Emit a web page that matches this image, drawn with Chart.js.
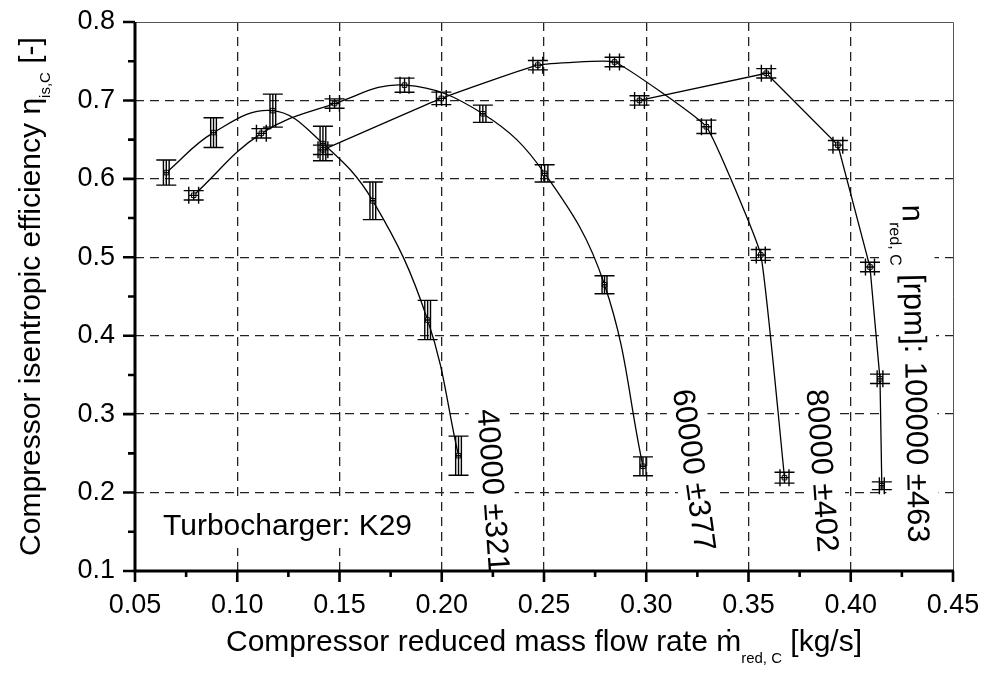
<!DOCTYPE html>
<html>
<head>
<meta charset="utf-8">
<script src="https://cdn.jsdelivr.net/npm/chart.js@4.4.1/dist/chart.umd.min.js"></script>
<style>
  html, body { margin: 0; padding: 0; background: #fff; }
  #wrap { width: 989px; height: 677px; }
</style>
</head>
<body>
<div id="wrap"><canvas id="effChart" width="989" height="677"></canvas></div>
<script>
// compressor map values
const speedLabels = ["40000 \u00b1321", "60000 \u00b1377", "80000 \u00b1402", "100000 \u00b1463"];

const massFlow40 = [0.0653, 0.0884, 0.1174, 0.1419, 0.1663, 0.1931, 0.2082];
const eff40 = [0.608, 0.659, 0.687, 0.645, 0.572, 0.420, 0.247];
const effErr40 = [0.016, 0.019, 0.021, 0.022, 0.024, 0.025, 0.025];
const flowErr40 = [0.0014, 0.0014, 0.0014, 0.0014, 0.0014, 0.0014, 0.0014];

const massFlow60 = [0.0787, 0.1118, 0.1476, 0.1818, 0.2201, 0.2503, 0.2796, 0.2984];
const eff60 = [0.579, 0.658, 0.696, 0.7195, 0.683, 0.607, 0.465, 0.2335];
const effErr60 = [0.006, 0.006, 0.006, 0.009, 0.011, 0.011, 0.0115, 0.012];
const flowErr60 = [0.0024, 0.0024, 0.0024, 0.0022, 0.0015, 0.0016, 0.0012, 0.0015];

const massFlow80 = [0.1419, 0.1998, 0.2470, 0.2845, 0.3294, 0.3560, 0.3676];
const eff80 = [0.637, 0.7026, 0.745, 0.749, 0.6664, 0.503, 0.219];
const effErr80 = [0.006, 0.008, 0.006, 0.006, 0.0085, 0.007, 0.007];
const flowErr80 = [0.0024, 0.0024, 0.0024, 0.0024, 0.0024, 0.0022, 0.0022];

const massFlow100 = [0.2967, 0.3587, 0.3937, 0.4094, 0.4143, 0.4152];
const eff100 = [0.700, 0.7346, 0.643, 0.4876, 0.345, 0.2087];
const effErr100 = [0.006, 0.006, 0.006, 0.006, 0.006, 0.005];
const flowErr100 = [0.0024, 0.0024, 0.0024, 0.0022, 0.0014, 0.0012];

const xTickValues = [0.05, 0.10, 0.15, 0.20, 0.25, 0.30, 0.35, 0.40, 0.45];
const yTickValues = [0.1, 0.2, 0.3, 0.4, 0.5, 0.6, 0.7, 0.8];

// where the speed labels sit (data coords of the top of each label) and their slant
const labelX = [0.2229, 0.3183, 0.3838, 0.4307];
const labelY = [0.3066, 0.3322, 0.3322, 0.5672];
const labelAngle = [86, 82, 86, 89];

const FONT = "'Liberation Sans', Arial, 'DejaVu Sans', sans-serif";

const series = [
  { x: massFlow40, y: eff40, ey: effErr40, ex: flowErr40, tension: 0.4 },
  { x: massFlow60, y: eff60, ey: effErr60, ex: flowErr60, tension: 0.4 },
  { x: massFlow80, y: eff80, ey: effErr80, ex: flowErr80, tension: 0.1 },
  { x: massFlow100, y: eff100, ey: effErr100, ex: flowErr100, tension: 0 }
];

function partsWidth(ctx, parts) {
  let w = 0;
  parts.forEach(p => { ctx.font = p.size + "px " + FONT; w += ctx.measureText(p.t).width; });
  return w;
}
function drawParts(ctx, parts, x, y) {
  let cx = x;
  parts.forEach(p => {
    ctx.font = p.size + "px " + FONT;
    ctx.fillText(p.t, cx, y + (p.dy || 0));
    cx += ctx.measureText(p.t).width;
  });
}

const mapPlugin = {
  id: "mapPlugin",
  beforeDatasetsDraw(chart) {
    const { ctx, scales: { x, y } } = chart;
    ctx.save();
    ctx.fillStyle = "#000";
    ctx.textBaseline = "alphabetic";
    ctx.textAlign = "left";

    // turbocharger note with white box
    const note = [{ t: "Turbocharger: K29", size: 30 }];
    const nw = partsWidth(ctx, note);
    ctx.fillStyle = "#fff";
    ctx.fillRect(153, 500, nw + 20, 48);
    ctx.fillStyle = "#000";
    drawParts(ctx, note, 163, 535);

    // rotated speed labels
    const fs = 31;
    const cap = 0.716 * fs;
    speedLabels.forEach((lab, i) => {
      const parts = i === 3
        ? [{ t: "n", size: fs }, { t: "red, C", size: 16, dy: 13 }, { t: " [rpm]: " + lab, size: fs }]
        : [{ t: lab, size: fs }];
      const w = partsWidth(ctx, parts);
      const extra = i === 3 ? 12 : 0;
      ctx.save();
      ctx.translate(x.getPixelForValue(labelX[i]), y.getPixelForValue(labelY[i]));
      ctx.rotate(labelAngle[i] * Math.PI / 180);
      ctx.fillStyle = "#fff";
      ctx.fillRect(-22, -cap / 2 - 9, w + 32, cap + 18 + extra);
      ctx.fillStyle = "#000";
      drawParts(ctx, parts, 0, cap / 2);
      ctx.restore();
    });
    ctx.restore();
  },
  afterDatasetsDraw(chart) {
    const { ctx, scales: { x, y } } = chart;
    ctx.save();
    ctx.strokeStyle = "#000";
    ctx.lineWidth = 1.4;
    series.forEach(s => {
      s.x.forEach((xv, k) => {
        const px = x.getPixelForValue(xv), py = y.getPixelForValue(s.y[k]);
        const yTop = y.getPixelForValue(s.y[k] + s.ey[k]);
        const yBot = y.getPixelForValue(s.y[k] - s.ey[k]);
        const xL = x.getPixelForValue(xv - s.ex[k]);
        const xR = x.getPixelForValue(xv + s.ex[k]);
        const h = Math.max(8.5, (yBot - yTop) / 2);
        ctx.beginPath();
        ctx.moveTo(px, yTop); ctx.lineTo(px, yBot);
        ctx.moveTo(px - 10, yTop); ctx.lineTo(px + 10, yTop);
        ctx.moveTo(px - 10, yBot); ctx.lineTo(px + 10, yBot);
        ctx.moveTo(xL, py - h); ctx.lineTo(xL, py + h);
        ctx.moveTo(xR, py - h); ctx.lineTo(xR, py + h);
        ctx.moveTo(xL, py); ctx.lineTo(xR, py);
        ctx.stroke();
      });
    });
    ctx.restore();
  },
  afterDraw(chart) {
    const { ctx, chartArea: a, scales: { x, y } } = chart;
    ctx.save();
    // thin frame top / right
    ctx.strokeStyle = "#555";
    ctx.lineWidth = 1;
    ctx.beginPath();
    ctx.moveTo(a.left, a.top + 0.5); ctx.lineTo(a.right + 0.5, a.top + 0.5);
    ctx.lineTo(a.right + 0.5, a.bottom);
    ctx.stroke();

    // thick axes and tick marks
    ctx.strokeStyle = "#000";
    ctx.lineWidth = 3;
    ctx.beginPath();
    ctx.moveTo(a.left, a.top); ctx.lineTo(a.left, a.bottom);
    ctx.lineTo(a.right + 1, a.bottom);
    ctx.stroke();
    ctx.lineWidth = 2.6;
    ctx.beginPath();
    x.ticks.forEach((t, i) => {
      const px = x.getPixelForValue(t.value);
      ctx.moveTo(px, a.bottom); ctx.lineTo(px, a.bottom + 11);
      if (i < x.ticks.length - 1) {
        const mx = x.getPixelForValue((t.value + x.ticks[i + 1].value) / 2);
        ctx.moveTo(mx, a.bottom); ctx.lineTo(mx, a.bottom + 6);
      }
    });
    y.ticks.forEach((t, i) => {
      const py = y.getPixelForValue(t.value);
      ctx.moveTo(a.left, py); ctx.lineTo(a.left - 12, py);
      if (i < y.ticks.length - 1) {
        const my = y.getPixelForValue((t.value + y.ticks[i + 1].value) / 2);
        ctx.moveTo(a.left, my); ctx.lineTo(a.left - 7, my);
      }
    });
    ctx.stroke();

    // axis titles with subscripts
    ctx.fillStyle = "#000";
    ctx.textBaseline = "alphabetic";
    ctx.textAlign = "left";
    const xt = [
      { t: "Compressor reduced mass flow rate \u1e41", size: 30 },
      { t: "red, C", size: 15, dy: 12 },
      { t: " [kg/s]", size: 30 }
    ];
    const xw = partsWidth(ctx, xt);
    drawParts(ctx, xt, (a.left + a.right) / 2 - xw / 2, 651);

    const yt = [
      { t: "Compressor isentropic efficiency \u03b7", size: 30 },
      { t: "is,C", size: 15, dy: 10 },
      { t: " [-]", size: 30 }
    ];
    const yw = partsWidth(ctx, yt);
    ctx.translate(40, (a.top + a.bottom) / 2);
    ctx.rotate(-Math.PI / 2);
    drawParts(ctx, yt, -yw / 2, 0);
    ctx.restore();
  }
};

const datasets = series.map((s, i) => ({
  label: speedLabels[i],
  data: s.x.map((xv, k) => ({ x: xv, y: s.y[k] })),
  showLine: true,
  borderColor: "#000",
  borderWidth: 1.3,
  tension: s.tension,
  pointStyle: "rect",
  pointRadius: 3.2,
  pointBackgroundColor: "#fff",
  pointBorderColor: "#000",
  pointBorderWidth: 1
}));

const edgeTransparent = (n) => (c) => (c.index === 0 || c.index === n - 1) ? "rgba(0,0,0,0)" : "#222";

new Chart(document.getElementById("effChart").getContext("2d"), {
  type: "scatter",
  data: { datasets: datasets },
  options: {
    responsive: false,
    animation: false,
    devicePixelRatio: 1,
    layout: { padding: { top: 22, right: 36, left: 0, bottom: 0 } },
    plugins: { legend: { display: false }, tooltip: { enabled: false } },
    scales: {
      x: {
        type: "linear", min: 0.05, max: 0.45,
        afterBuildTicks: (s) => { s.ticks = xTickValues.map(v => ({ value: v })); },
        afterFit: (s) => { s.height = 106; s.paddingLeft = 0; s.paddingRight = 0; },
        grid: { color: edgeTransparent(xTickValues.length), lineWidth: 1.3, drawTicks: false },
        border: { display: false, dash: [9, 6] },
        ticks: {
          color: "#000", padding: 18, maxRotation: 0, autoSkip: false,
          font: { family: FONT, size: 27 },
          callback: (v) => v.toFixed(2)
        }
      },
      y: {
        type: "linear", min: 0.1, max: 0.8,
        afterBuildTicks: (s) => { s.ticks = yTickValues.map(v => ({ value: v })); },
        afterFit: (s) => { s.width = 135; s.paddingTop = 0; s.paddingBottom = 0; },
        grid: { color: edgeTransparent(yTickValues.length), lineWidth: 1.3, drawTicks: false },
        border: { display: false, dash: [9, 6] },
        ticks: {
          color: "#000", padding: 20, autoSkip: false,
          font: { family: FONT, size: 27 },
          callback: (v) => v.toFixed(1)
        }
      }
    }
  },
  plugins: [mapPlugin]
});
</script>
</body>
</html>
